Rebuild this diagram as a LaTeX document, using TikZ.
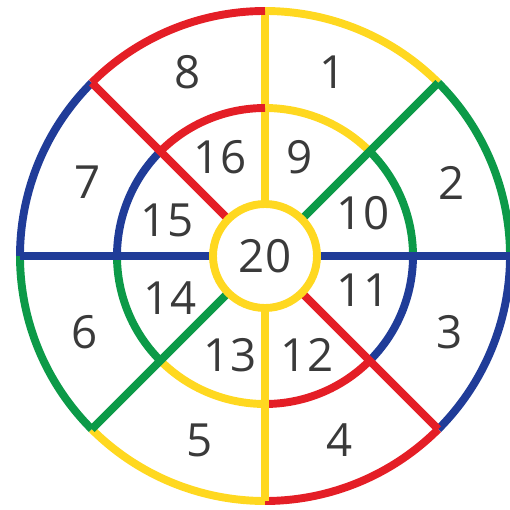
\documentclass[tikz,border=0pt]{standalone}
\usepackage{fontspec}
\setsansfont{Open Sans}
\definecolor{ringred}{RGB}{228,30,38}
\definecolor{ringyellow}{RGB}{255,216,32}
\definecolor{ringgreen}{RGB}{12,154,72}
\definecolor{ringblue}{RGB}{32,60,152}
\definecolor{numgray}{RGB}{58,58,58}
\tikzset{
  num/.style={font=\sffamily\fontsize{26}{26}\selectfont, text=numgray, inner sep=0pt}
}
\begin{document}
\begin{tikzpicture}[line width=4.5pt]
  \useasboundingbox (-5.3,-5.08) rectangle (4.9,5.12);
  % rings and spokes, one colour per sector
  \foreach \a/\c in {90/ringyellow,45/ringgreen,0/ringblue,-45/ringred,-90/ringyellow,-135/ringgreen,-180/ringblue,-225/ringred}{
    \draw[\c] (\a:4.9) arc[start angle=\a, end angle=\a-45, radius=4.9];
    \draw[\c] (\a:2.96) arc[start angle=\a, end angle=\a-45, radius=2.96];
    \draw[\c] (\a:1.04) -- (\a:4.9);
  }
  \node[circle, draw=ringyellow, fill=white, minimum size=2.08cm, inner sep=0pt, num] (n20) at (0,0) {20};
  % outer numbers
  \node[num] (n1) at (1.36,3.68) {1};
  \node[num] (n2) at (3.74,1.46) {2};
  \node[num] (n3) at (3.7,-1.52) {3};
  \node[num] (n4) at (1.5,-3.68) {4};
  \node[num] (n5) at (-1.3,-3.68) {5};
  \node[num] (n6) at (-3.6,-1.52) {6};
  \node[num] (n7) at (-3.54,1.48) {7};
  \node[num] (n8) at (-1.54,3.68) {8};
  % inner numbers
  \node[num] (n9) at (0.7,1.98) {9};
  \node[num] (n10) at (1.96,0.86) {10};
  \node[num] (n11) at (1.96,-0.68) {11};
  \node[num] (n12) at (0.84,-1.98) {12};
  \node[num] (n13) at (-0.7,-1.98) {13};
  \node[num] (n14) at (-1.9,-0.84) {14};
  \node[num] (n15) at (-1.96,0.72) {15};
  \node[num] (n16) at (-0.9,1.98) {16};
\end{tikzpicture}
\end{document}
